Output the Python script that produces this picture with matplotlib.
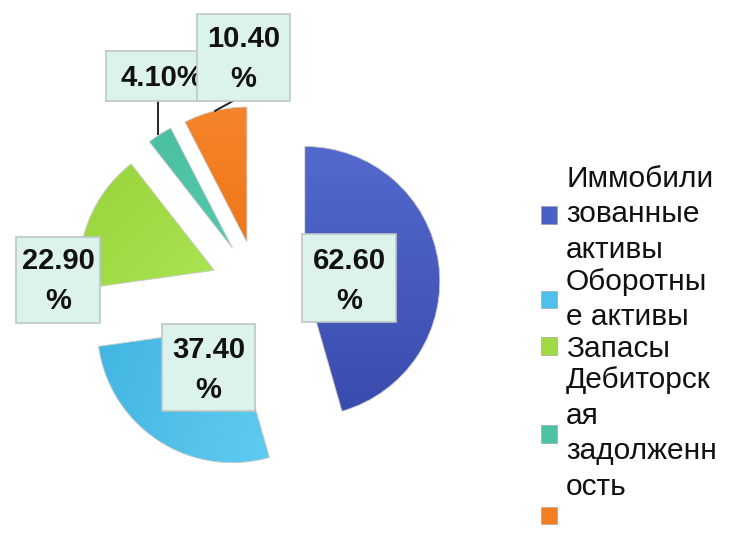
import numpy as np
import matplotlib
matplotlib.use("Agg")
import matplotlib.pyplot as plt
from matplotlib.patches import Rectangle, Patch
from matplotlib.colors import to_rgb

# ---------------- data ----------------
values = [62.6, 37.4, 22.9, 4.1, 10.4]
value_labels = ["62.60\n%", "37.40\n%", "22.90\n%", "4.10%", "10.40\n%"]
legend_labels = ["Иммобили\nзованные\nактивы", "Оборотны\nе активы", "Запасы",
                 "Дебиторск\nая\nзадолженн\nость", " "]

# ---------------- style ----------------
base_colors = ["#4A60C4", "#4FC0EA", "#A0DA44", "#4DC3A6", "#F47E22"]
grad_colors = [("#5369CE", "#3A4CAE"), ("#42B5E2", "#60CBF1"), ("#98D23A", "#AAE553"),
               ("#4ABFA2", "#55C9AD"), ("#F5842A", "#EF771A")]
grad_angles = [-90, -20, -45, -60, -90]

W, H = 730, 542
CX, CY, R = 258, 288, 135  # pie centre / radius in pixels

plt.rcParams["font.family"] = ["Liberation Sans", "DejaVu Sans"]
fig = plt.figure(figsize=(W / 100, H / 100), dpi=100)
ax = fig.add_axes([0, 0, 1, 1])


def to_data(xp, yp):
    return (xp - CX) / R, (CY - yp) / R


wedges, _ = ax.pie(values, colors=base_colors, startangle=90, counterclock=False,
                   explode=[0.35] * len(values), radius=1,
                   wedgeprops=dict(linewidth=0))


def gradient_fill(w, c0, c1, ang):
    v = w.get_path().vertices
    x0, y0 = v.min(0)
    x1, y1 = v.max(0)
    n = 200
    X, Y = np.meshgrid(np.linspace(x0, x1, n), np.linspace(y0, y1, n))
    d = np.array([np.cos(np.radians(ang)), np.sin(np.radians(ang))])
    t = X * d[0] + Y * d[1]
    t = (t - t.min()) / (t.max() - t.min())
    a, b = np.array(to_rgb(c0)), np.array(to_rgb(c1))
    img = a * (1 - t)[..., None] + b * t[..., None]
    im = ax.imshow(img, extent=(x0, x1, y0, y1), origin="lower", aspect="auto",
                   interpolation="bilinear", zorder=w.get_zorder() + 0.1)
    im.set_clip_path(w)


for w, (c0, c1), ang in zip(wedges, grad_colors, grad_angles):
    gradient_fill(w, c0, c1, ang)
    w.set_edgecolor("#c9c9c9")
    w.set_linewidth(0.6)
    w.set_zorder(w.get_zorder() + 0.2)
    w.set_facecolor("none")


def arc_mid(w):
    th = np.radians((w.theta1 + w.theta2) / 2)
    cx, cy = w.center
    return cx + w.r * np.cos(th), cy + w.r * np.sin(th)


box_face, box_edge = "#DCF2EC", "#BFC6C3"
# label boxes (pixel layout): x0, x1, y0, y1, text centre x, text centre y
boxes = [
    (302, 396, 234, 322, 349, 281),
    (162, 255, 324, 411, 208.5, 370),
    (16, 100, 237, 323, 58, 281),
    (106, 212, 51, 101, 162, 78),
    (197, 290, 14, 101, 243.5, 59),
]
zo = [6, 6, 6, 6, 8]
for lab, (x0, x1, y0, y1, tx, ty), z in zip(value_labels, boxes, zo):
    dx0, dy1 = to_data(x0, y1)
    dx1, dy0 = to_data(x1, y0)
    ax.add_patch(Rectangle((dx0, dy1), dx1 - dx0, dy0 - dy1, facecolor=box_face,
                           edgecolor=box_edge, linewidth=1.2, zorder=z))
    px, py = to_data(tx, ty)
    ax.text(px, py, lab, ha="center", va="center", ma="center", fontsize=21,
            fontweight="bold", color="#111111", linespacing=1.55, zorder=z + 0.5)

# leader lines
mx, my = arc_mid(wedges[3])
bx, by = to_data(158, 101)
ax.plot([bx, bx], [by, my], color="#222222", lw=1.4, zorder=5)
mx, my = arc_mid(wedges[4])
bx, by = to_data(233, 101)
ax.plot([bx, mx], [by, my], color="#222222", lw=1.4, zorder=5)

ax.set_aspect("auto")
ax.set_xlim(-CX / R, (W - CX) / R)
ax.set_ylim(-(H - CY) / R, CY / R)
ax.axis("off")

handles = [Patch(facecolor=c, edgecolor="#9a9a9a", linewidth=0.4) for c in base_colors]
leg = fig.legend(handles, legend_labels, loc="upper left",
                 bbox_to_anchor=(541 / W, 1 - 165 / H), frameon=False,
                 fontsize=21.5, borderpad=0, borderaxespad=0, labelspacing=0.12,
                 handlelength=0.52, handleheight=0.52, handletextpad=0.32)
for t in leg.get_texts():
    t.set_color("#111111")
    t.set_linespacing(1.34)

fig.savefig("out.png", dpi=100)
